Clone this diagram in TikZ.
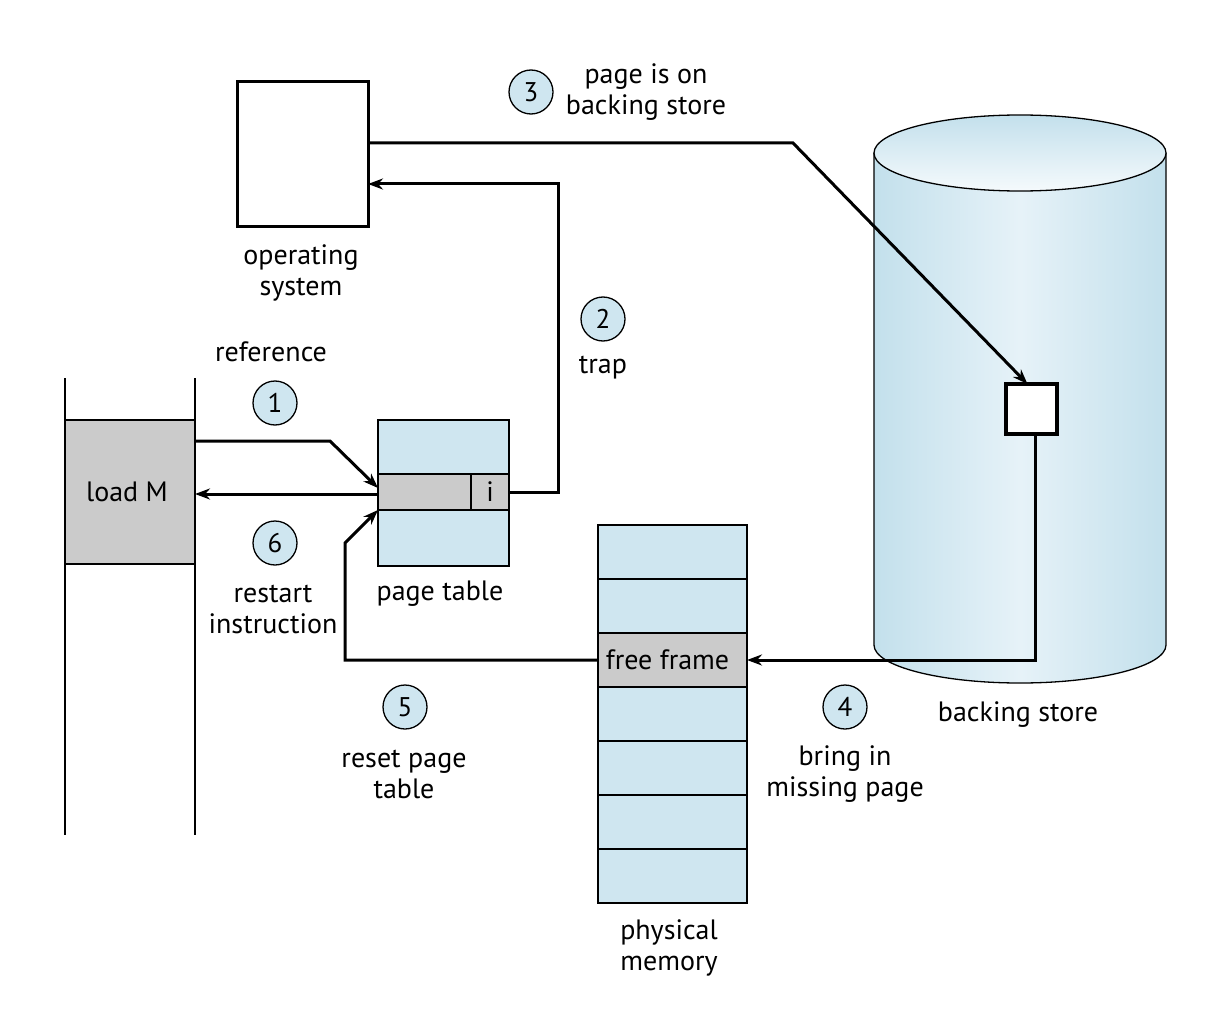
\documentclass[tikz,border=0pt]{standalone}
\usepackage{fontspec}
\setmainfont{PT Sans}
\usepackage{tikz}
\usetikzlibrary{arrows.meta}
\usetikzlibrary{positioning}

\definecolor{lblue}{HTML}{CFE6F0}
\definecolor{cylblue}{HTML}{C3E0EC}
\definecolor{cylhi}{HTML}{E6F2F8}
\definecolor{lgray}{HTML}{CBCBCB}

\tikzset{
	lbl/.style={font=\fontsize{28}{31}\selectfont, align=center, inner sep=0pt},
	numcirc/.style={circle, draw, line width=1.3pt, fill=lblue, minimum size=44pt, inner sep=0pt, font=\fontsize{27}{31}\selectfont},
	frame/.style={rectangle, draw, line width=1.4pt, fill=lblue, minimum width=149pt, minimum height=54pt, inner sep=0pt, outer sep=0pt},
	ptcell/.style={rectangle, draw, line width=1.4pt, inner sep=0pt, outer sep=0pt},
	arr/.style={line width=3pt, -{Stealth[length=15pt, width=11pt]}},
}

\begin{document}
\begin{tikzpicture}[x=1pt, y=-1pt]
	\fill[white] (0,0) rectangle (1216,1014);
	\useasboundingbox (0,0) rectangle (1216,1014);
	% backing store
	\shade[left color=cylblue, right color=cylblue, middle color=cylhi] (874,153) -- (874,645) arc[start angle=180, end angle=360, x radius=146pt, y radius=38pt] -- (1166,153) -- cycle;
	\draw[line width=1.3pt] (874,153) -- (874,645) arc[start angle=180, end angle=360, x radius=146pt, y radius=38pt] -- (1166,153);
	\shade[top color=cylblue, bottom color=cylhi!40!white] (1020,153) ellipse[x radius=146pt, y radius=38pt];
	\draw[line width=1.3pt] (1020,153) ellipse[x radius=146pt, y radius=38pt];
	\node[rectangle, draw, line width=3.5pt, fill=white, minimum width=51pt, minimum height=50pt, inner sep=0pt, outer sep=0pt] (slot) at (1031.5,409){};
	\node[lbl] (bslbl) at (1018,715){backing store};
	% operating system
	\node[rectangle, draw, line width=3pt, fill=white, minimum width=131pt, minimum height=144pt, inner sep=0pt, outer sep=0pt] (os) at (302.5,154){};
	\node[lbl] (oslbl) at (301,273){operating\\system};
	% program
	\node[rectangle, draw, line width=1.4pt, fill=lgray, minimum width=130pt, minimum height=144pt, inner sep=0pt, outer sep=0pt, font=\fontsize{28}{31}\selectfont] (loadM) at (130,492){\hspace{-6pt}load M};
	\draw[line width=1.4pt] (loadM.north west |- 0,378) -- (loadM.south west |- 0,835);
	\draw[line width=1.4pt] (loadM.north east |- 0,378) -- (loadM.south east |- 0,835);
	% page table
	\node[ptcell, fill=lblue, minimum width=131pt, minimum height=54pt] (ptop) at (443.5,447){};
	\node[ptcell, fill=lgray, minimum width=93pt, minimum height=36pt] (prow) at (424.5,492){};
	\node[ptcell, fill=lgray, minimum width=38pt, minimum height=36pt, font=\fontsize{28}{31}\selectfont] (pbit) at (490,492){i};
	\node[ptcell, fill=lblue, minimum width=131pt, minimum height=56pt] (pbot) at (443.5,538){};
	\node[lbl] (ptlbl) at (440,594){page table};
	% physical memory
	\node[frame] (f0) at (672.5,552){};
	\node[frame] (f1) at (672.5,606){};
	\node[frame, fill=lgray, font=\fontsize{28}{31}\selectfont] (free) at (672.5,660){\hspace{-10pt}free frame};
	\node[frame] (f3) at (672.5,714){};
	\node[frame] (f4) at (672.5,768){};
	\node[frame] (f5) at (672.5,822){};
	\node[frame] (f6) at (672.5,876){};
	\node[lbl] (pmlbl) at (669,948){physical\\memory};
	% steps
	\node[numcirc] (c1) at (275,403){1};
	\node[lbl] (reflbl) at (271,352){reference};
	\node[numcirc] (c2) at (603,319){2};
	\node[lbl] (traplbl) at (603,368){trap};
	\node[numcirc] (c3) at (531,92){3};
	\node[lbl] (pblbl) at (646,92){page is on\\backing store};
	\node[numcirc] (c4) at (845,707){4};
	\node[lbl] (bilbl) at (845,774){bring in\\missing page};
	\node[numcirc] (c5) at (405,707){5};
	\node[lbl] (rslbl) at (404,774){reset page\\table};
	\node[numcirc] (c6) at (275,543){6};
	\node[lbl] (rilbl) at (273,609){restart\\instruction};
	% connectors
	\draw[arr] (loadM.east |- 0,441) -- (330,441) -- (prow.west |- 0,488);%1
	\draw[arr] (pbit.east) -| (558,184) -- (os.east |- 0,184);%2
	\draw[arr] (os.east |- 0,143) -- (793,143) -- ([xshift=-4pt]slot.north);%3
	\draw[arr] ([xshift=4pt]slot.south) |- (free.east);%4
	\draw[arr] (free.west) -| (345,543) -- (pbot.north west);%5
	\draw[arr] (prow.west |- 0,494) -- (loadM.east |- 0,494);%6
\end{tikzpicture}
\end{document}
